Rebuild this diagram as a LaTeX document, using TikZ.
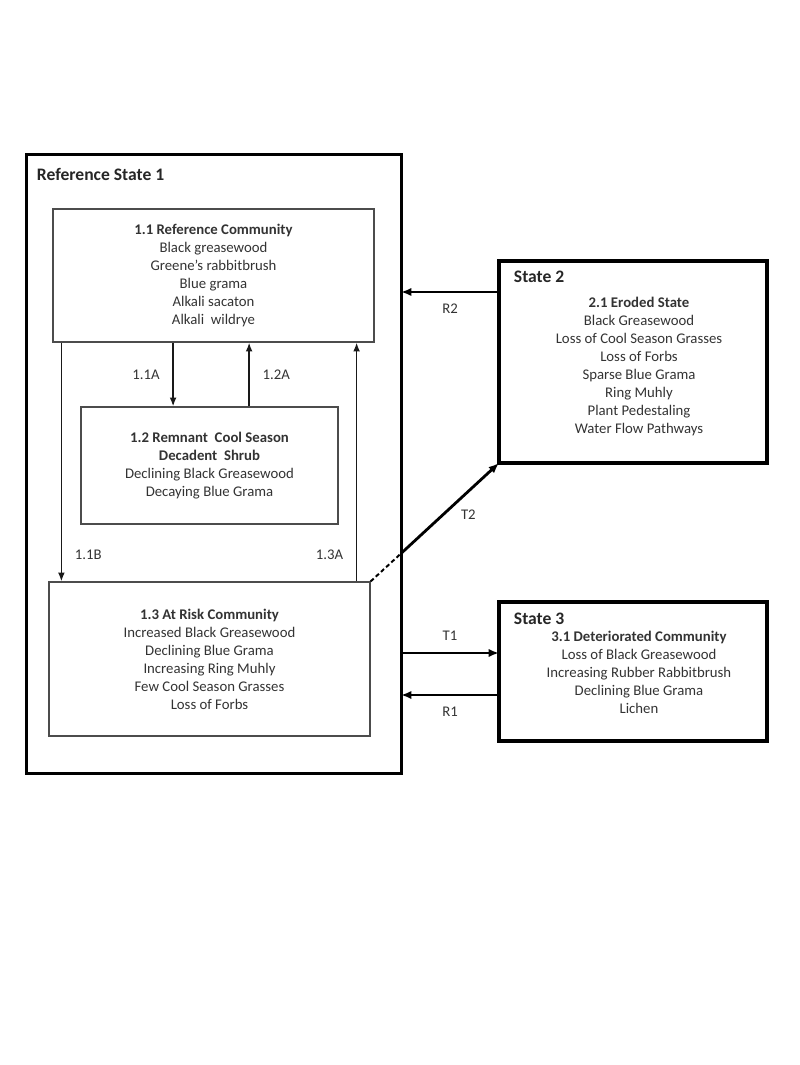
\documentclass[tikz,border=0pt]{standalone}
\usepackage{fontspec}
\setmainfont{Carlito}
\usetikzlibrary{arrows.meta, positioning}
\def\TextColor{black!80}

\begin{document}
\begin{tikzpicture} [
    x=0.025cm, y=-0.025cm,
    N/.style = {draw=black!70, line width=0.8pt, text=\TextColor, align=center,
                font=\fontsize{10.5}{12.8}\selectfont},
    S/.style = {draw, line width=2.2pt},
    T/.style = {text=black!85, font=\fontsize{12.5}{15}\selectfont\bfseries},
    L/.style = {text=\TextColor, font=\fontsize{10.5}{12.8}\selectfont},
    inner/.style = {draw=black!90, ->, >={Latex[length=2.2mm, width=1.7mm]}, line width=1.1pt},
    outer/.style = {draw, ->, >={Latex[length=2.6mm, width=2.1mm]}, line width=2pt}
    ]
  \useasboundingbox (0,0) rectangle (800,1065);

  %%% Reference State 1 %%%
  \node[S, minimum width=9.35cm, minimum height=15.45cm, outer sep=0pt] (rs1) at (214,464) {};
  \node[T, anchor=west] (rs1t) at (32,174) {Reference State 1};

  %%% 1.1 %%%
  \node[N, minimum width=8.025cm, minimum height=3.325cm] (c11) at (213.5,275.5)
    {\textbf{1.1 Reference Community}\\Black greasewood\\Greene's rabbitbrush\\Blue grama\\Alkali sacaton\\Alkali\ \ wildrye};

  %%% 1.2 %%%
  \node[N, minimum width=6.425cm, minimum height=2.925cm] (c12) at (209.5,465.5)
    {\textbf{1.2 Remnant\ \ Cool Season}\\\textbf{Decadent\ \ Shrub}\\Declining Black Greasewood\\Decaying Blue Grama};

  %%% 1.3 %%%
  \node[N, minimum width=8.025cm, minimum height=3.85cm] (c13) at (209.5,659)
    {\textbf{1.3 At Risk Community}\\Increased Black Greasewood\\Declining Blue Grama\\Increasing Ring Muhly\\Few Cool Season Grasses\\Loss of Forbs};

  %%% State 2 %%%
  \node[S, minimum width=6.7cm, minimum height=5.05cm, outer sep=0pt] (s2) at (633,362) {};
  \node[T, anchor=west] (s2t) at (509,277) {State 2};
  \node[N, draw=none] (s2c) at (639,367)
    {\textbf{2.1 Eroded State}\\Black Greasewood\\Loss of Cool Season Grasses\\Loss of Forbs\\Sparse Blue Grama\\Ring Muhly\\Plant Pedestaling\\Water Flow Pathways};

  %%% State 3 %%%
  \node[S, minimum width=6.7cm, minimum height=3.475cm, outer sep=0pt] (s3) at (633,671.5) {};
  \node[T, anchor=west] (s3t) at (509,619) {State 3};
  \node[N, draw=none] (s3c) at (639,672)
    {\textbf{3.1 Deteriorated Community}\\Loss of Black Greasewood\\Increasing Rubber Rabbitbrush\\Declining Blue Grama\\Lichen};

  % Edges inside state 1
  \draw[inner] ([xshift=-1.01cm]c11.south) coordinate (a11) -- (a11 |- c12.north)
    node[L, midway, left=2mm] {1.1A};
  \draw[inner] ([xshift=0.99cm]c12.north) coordinate (a12) -- (a12 |- c11.south)
    node[L, midway, right=2mm] {1.2A};
  \draw[inner] ([xshift=0.225cm]c11.south west) coordinate (a11b) -- (a11b |- c13.north)
    node[L, pos=0.89, right=2mm] {1.1B};
  \draw[inner] ([xshift=-0.35cm]c13.north east) coordinate (a13) -- (a13 |- c11.south)
    node[L, pos=0.11, left=2mm] {1.3A};

  % Edges between states
  \draw[outer] ([yshift=-0.775cm]s2.north west) coordinate (r2) -- (rs1.east |- r2)
    node[L, midway, below=1.5mm] {R2};
  \draw[outer] ([yshift=-1.275cm]s3.north west -| rs1.east) coordinate (t1) -- (t1 -| s3.west)
    node[L, midway, above=1.5mm] {T1};
  \draw[outer] ([yshift=-2.325cm]s3.north west) coordinate (r1) -- (rs1.east |- r1)
    node[L, midway, below=1.5mm] {R1};

  \coordinate (t2) at (intersection of c13.north east--s2.south west and rs1.north east--rs1.south east);
  \draw[dashed, dash pattern=on 3pt off 2pt, line width=1.4pt] (c13.north east) -- (t2);
  \draw[outer] (t2) -- (s2.south west)
    node[L, pos=0.55, below right=0mm and 0mm] {T2};

\end{tikzpicture}
\end{document}
